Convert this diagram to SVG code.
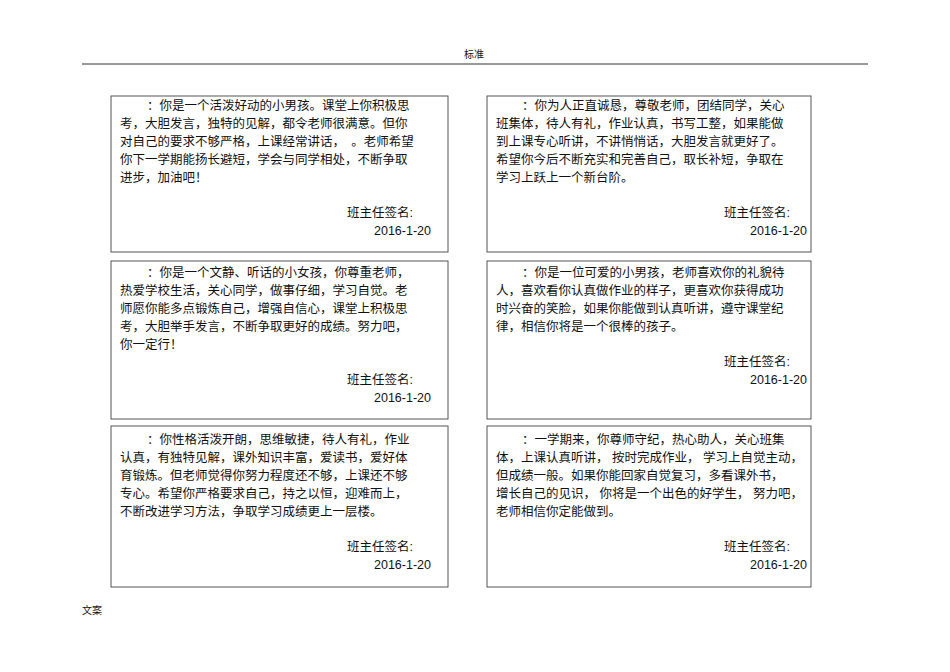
<svg xmlns="http://www.w3.org/2000/svg" width="950" height="672" viewBox="0 0 950 672">
<style>
text{font-family:"Liberation Sans","Noto Sans CJK SC",sans-serif;font-size:12.5px;fill:#111}
.b{fill:#fff;stroke:#555;stroke-width:1}
.s{text-anchor:end}
.sm{font-size:10px}
</style>
<rect width="950" height="672" fill="#fff"/>
<text class="sm" x="474" y="58" text-anchor="middle">标准</text>
<line x1="82" y1="64" x2="868" y2="64" stroke="#333" stroke-width="1"/>
<text class="sm" x="82" y="614">文案</text>
<g id="n1"><rect class="b" x="111" y="96" width="337" height="156"/>
<text x="147" y="110">：你是一个活泼好动的小男孩。课堂上你积极思</text>
<text x="120" y="128">考，大胆发言，独特的见解，都令老师很满意。但你</text>
<text x="120" y="146">对自己的要求不够严格，上课经常讲话，　。老师希望</text>
<text x="120" y="164">你下一学期能扬长避短，学会与同学相处，不断争取</text>
<text x="120" y="182">进步，加油吧！</text>
<text class="s" x="413" y="217">班主任签名:</text>
<text class="s" x="431" y="235">2016-1-20</text></g>
<g id="n2"><rect class="b" x="487" y="96" width="324" height="156"/>
<text x="522" y="110">：你为人正直诚恳，尊敬老师，团结同学，关心</text>
<text x="496" y="128">班集体，待人有礼，作业认真，书写工整，如果能做</text>
<text x="496" y="146">到上课专心听讲，不讲悄悄话，大胆发言就更好了。</text>
<text x="496" y="164">希望你今后不断充实和完善自己，取长补短，争取在</text>
<text x="496" y="182">学习上跃上一个新台阶。</text>
<text class="s" x="790" y="217">班主任签名:</text>
<text class="s" x="807" y="235">2016-1-20</text></g>
<g id="n3"><rect class="b" x="111" y="261" width="337" height="158"/>
<text x="147" y="277">：你是一个文静、听话的小女孩，你尊重老师，</text>
<text x="120" y="295">热爱学校生活，关心同学，做事仔细，学习自觉。老</text>
<text x="120" y="313">师愿你能多点锻炼自己，增强自信心，课堂上积极思</text>
<text x="120" y="331">考，大胆举手发言，不断争取更好的成绩。努力吧，</text>
<text x="120" y="349">你一定行！</text>
<text class="s" x="413" y="384">班主任签名:</text>
<text class="s" x="431" y="402">2016-1-20</text></g>
<g id="n4"><rect class="b" x="487" y="261" width="324" height="158"/>
<text x="522" y="277">：你是一位可爱的小男孩，老师喜欢你的礼貌待</text>
<text x="496" y="295">人，喜欢看你认真做作业的样子，更喜欢你获得成功</text>
<text x="496" y="313">时兴奋的笑脸，如果你能做到认真听讲，遵守课堂纪</text>
<text x="496" y="331">律，相信你将是一个很棒的孩子。</text>
<text class="s" x="790" y="366">班主任签名:</text>
<text class="s" x="807" y="384">2016-1-20</text></g>
<g id="n5"><rect class="b" x="111" y="426" width="337" height="161"/>
<text x="147" y="444">：你性格活泼开朗，思维敏捷，待人有礼，作业</text>
<text x="120" y="462">认真，有独特见解，课外知识丰富，爱读书，爱好体</text>
<text x="120" y="480">育锻炼。但老师觉得你努力程度还不够，上课还不够</text>
<text x="120" y="498">专心。希望你严格要求自己，持之以恒，迎难而上，</text>
<text x="120" y="516">不断改进学习方法，争取学习成绩更上一层楼。</text>
<text class="s" x="413" y="551">班主任签名:</text>
<text class="s" x="431" y="569">2016-1-20</text></g>
<g id="n6"><rect class="b" x="487" y="426" width="324" height="161"/>
<text x="522" y="444">：一学期来，你尊师守纪，热心助人，关心班集</text>
<text x="496" y="462">体，上课认真听讲， 按时完成作业， 学习上自觉主动，</text>
<text x="496" y="480">但成绩一般。如果你能回家自觉复习，多看课外书，</text>
<text x="496" y="498">增长自己的见识， 你将是一个出色的好学生， 努力吧，</text>
<text x="496" y="516">老师相信你定能做到。</text>
<text class="s" x="790" y="551">班主任签名:</text>
<text class="s" x="807" y="569">2016-1-20</text></g>
<g id="connectors"/>
</svg>
